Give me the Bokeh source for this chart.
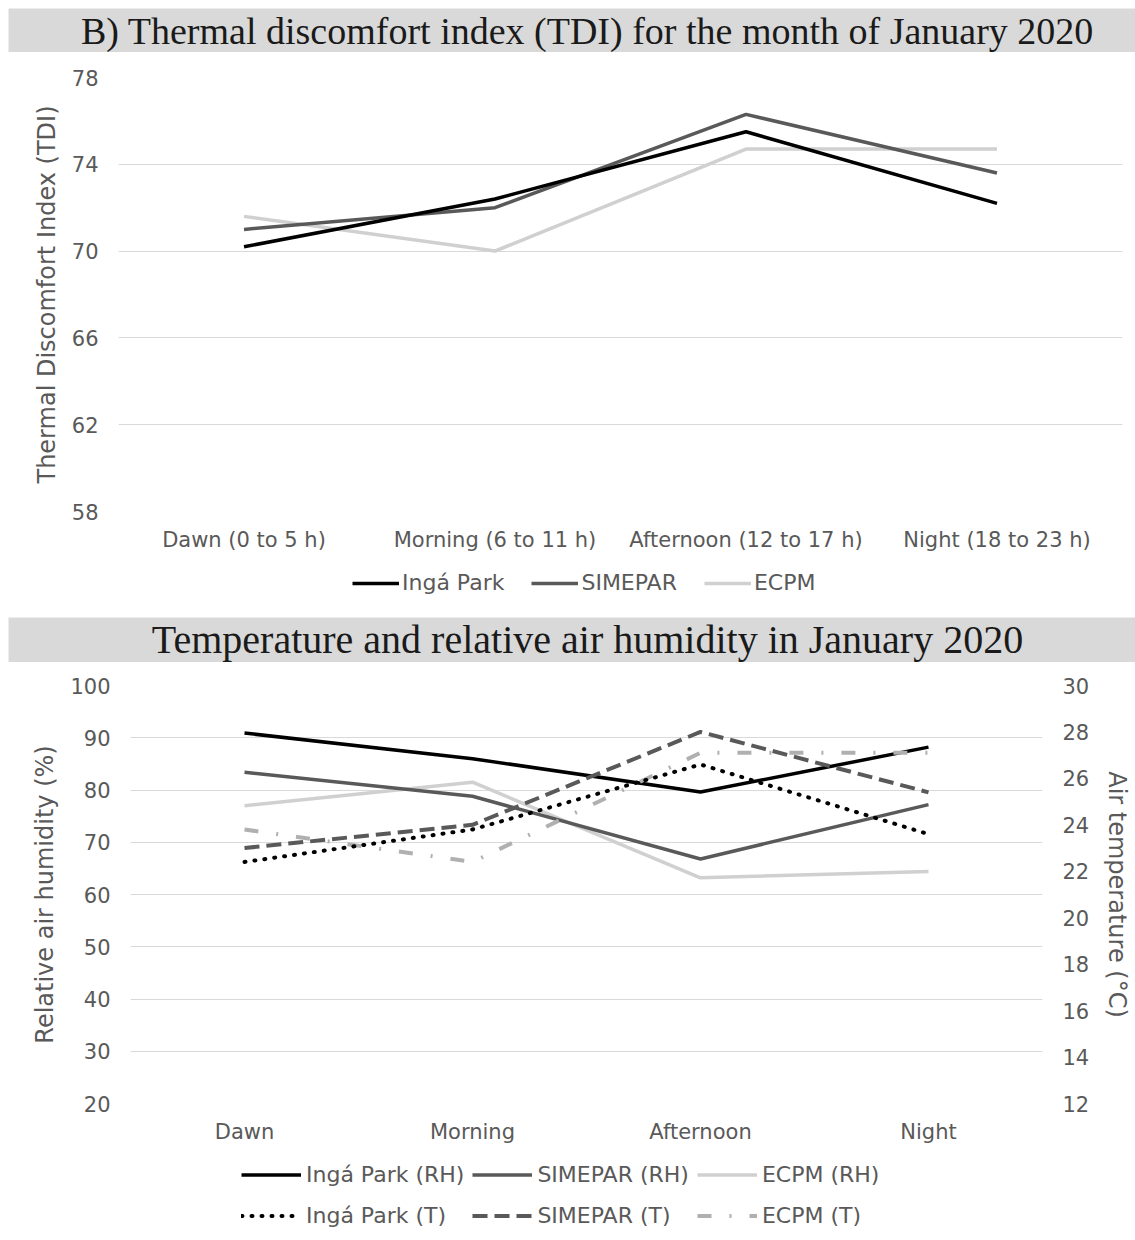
from bokeh.plotting import figure
from bokeh.models import (FactorRange, Range1d, LinearAxis, FixedTicker, Legend,
                          LegendItem, Label, ColumnDataSource)
from bokeh.layouts import column
from bokeh.embed import file_html
from bokeh.resources import INLINE

# ---------------- data ----------------
title_top = "B) Thermal discomfort index (TDI) for the month of January 2020"
title_bottom = "Temperature and relative air humidity in January 2020"

periods_top = ["Dawn (0 to 5 h)", "Morning (6 to 11 h)", "Afternoon (12 to 17 h)", "Night (18 to 23 h)"]
tdi_inga = [70.2, 72.4, 75.5, 72.2]
tdi_simepar = [71.0, 72.0, 76.3, 73.6]
tdi_ecpm = [71.6, 70.0, 74.7, 74.7]
tdi_ticks = [58, 62, 66, 70, 74, 78]

periods_bottom = ["Dawn", "Morning", "Afternoon", "Night"]
rh_inga = [90.9, 86.0, 79.6, 88.2]
rh_simepar = [83.4, 78.8, 66.8, 77.2]
rh_ecpm = [77.0, 81.5, 63.2, 64.4]
t_inga = [22.4, 23.8, 26.6, 23.6]
t_simepar = [23.0, 24.0, 28.0, 25.4]
t_ecpm = [23.8, 22.4, 27.1, 27.1]
rh_ticks = [20, 30, 40, 50, 60, 70, 80, 90, 100]
t_ticks = [12, 14, 16, 18, 20, 22, 24, 26, 28, 30]

top_labels = ["Ingá Park", "SIMEPAR", "ECPM"]
bottom_labels = ["Ingá Park (RH)", "SIMEPAR (RH)", "ECPM (RH)",
                 "Ingá Park (T)", "SIMEPAR (T)", "ECPM (T)"]

# ---------------- style ----------------
SANS = "DejaVu Sans"
SERIF = "Liberation Serif"
TXT = "#595959"
GRID = "#d9d9d9"
BAR = "#d9d9d9"
C_INGA = "#000000"
C_SIM = "#595959"
C_ECPM = "#d0d0d0"
C_ECPM_T = "#b0b0b0"
NAN = float("nan")

style_top = [dict(line_color=C_INGA, line_width=3.5),
             dict(line_color=C_SIM, line_width=3.5),
             dict(line_color=C_ECPM, line_width=3.5)]
style_bottom = [dict(line_color=C_INGA, line_width=3.5),
                dict(line_color=C_SIM, line_width=3.5),
                dict(line_color=C_ECPM, line_width=3.5),
                dict(line_color=C_INGA, line_width=4, line_dash="1 9", line_cap="round"),
                dict(line_color=C_SIM, line_width=4, line_dash="15 7"),
                dict(line_color=C_ECPM_T, line_width=4, line_dash="14 18 2 18")]


def blank_fig(frame_w, frame_h, left, top):
    f = figure(frame_width=frame_w, frame_height=frame_h, x_range=Range1d(0, 1), y_range=Range1d(0, 1),
               toolbar_location=None, output_backend="svg",
               min_border_left=left, min_border_right=0, min_border_top=top, min_border_bottom=0,
               x_axis_location=None, y_axis_location=None, frame_align=False)
    f.grid.visible = False
    f.outline_line_color = None
    return f


def title_bar(text, frame_h, top, base, size):
    f = blank_fig(1127, frame_h, 8, top)
    f.background_fill_color = BAR
    f.border_fill_color = "white"
    f.add_layout(Label(x=579, y=base, x_units="screen", y_units="screen", text=text,
                       text_align="center", text_baseline="alphabetic",
                       text_font=SERIF, text_font_size=size, text_color="#1a1a1a"))
    return f


def legend_fig(height, labels, styles, loc, ncols, glyph_w, glyph_h, standoff, spacing):
    f = blank_fig(1135, height, 0, 0)
    items = []
    for lab, st in zip(labels, styles):
        r = f.line(x=[NAN], y=[NAN], line_join="round", **st)
        items.append(LegendItem(label=lab, renderers=[r]))
    leg = Legend(items=items, orientation="horizontal", ncols=ncols, location=loc,
                 glyph_width=glyph_w, glyph_height=glyph_h, label_height=glyph_h,
                 label_standoff=standoff, spacing=spacing, padding=0, margin=0,
                 border_line_color=None, background_fill_alpha=0, label_text_font=SANS,
                 label_text_font_size="22px", label_text_color=TXT)
    f.add_layout(leg, "center")
    return f


def style_axis(ax, label_standoff):
    ax.axis_line_color = None
    ax.major_tick_line_color = None
    ax.minor_tick_line_color = None
    ax.major_tick_out = 0
    ax.major_tick_in = 0
    ax.major_label_text_font = SANS
    ax.major_label_text_font_size = "21px"
    ax.major_label_text_color = TXT
    ax.major_label_standoff = label_standoff
    ax.axis_label_text_font = SANS
    ax.axis_label_text_font_size = "24px"
    ax.axis_label_text_color = TXT
    ax.axis_label_text_font_style = "normal"


# ---------------- top chart ----------------
bar1 = title_bar(title_top, 44, 8, 22, "38px")

src1 = ColumnDataSource(dict(x=periods_top, inga=tdi_inga, sim=tdi_simepar, ecpm=tdi_ecpm))
p1 = figure(x_range=FactorRange(*periods_top), y_range=Range1d(58, 78),
            frame_width=1004, frame_height=434,
            min_border_left=118, min_border_right=13, min_border_top=25, min_border_bottom=49,
            toolbar_location=None, output_backend="svg", frame_align=False)
p1.outline_line_color = None
p1.xgrid.visible = False
p1.ygrid.ticker = FixedTicker(ticks=tdi_ticks)
p1.ygrid.grid_line_color = GRID
p1.yaxis.ticker = FixedTicker(ticks=tdi_ticks)
p1.yaxis.axis_label = "Thermal Discomfort Index (TDI)"
p1.yaxis.axis_label_standoff = 8
style_axis(p1.yaxis[0], 20)
style_axis(p1.xaxis[0], 16)

p1.line("x", "ecpm", source=src1, line_join="round", **style_top[2])
p1.line("x", "sim", source=src1, line_join="round", **style_top[1])
p1.line("x", "inga", source=src1, line_join="round", **style_top[0])

leg1 = legend_fig(57, top_labels, style_top, (352, 22), "auto", 47, 20, 3, 27)

# ---------------- bottom chart ----------------
bar2 = title_bar(title_bottom, 45, 0, 23, "40px")

src2 = ColumnDataSource(dict(x=periods_bottom, rh_inga=rh_inga, rh_sim=rh_simepar, rh_ecpm=rh_ecpm,
                             t_inga=t_inga, t_sim=t_simepar, t_ecpm=t_ecpm))
p2 = figure(x_range=FactorRange(*periods_bottom), y_range=Range1d(20, 100),
            frame_width=912, frame_height=418,
            min_border_left=130, min_border_right=93, min_border_top=23, min_border_bottom=49,
            toolbar_location=None, output_backend="svg", frame_align=False)
p2.extra_y_ranges = {"temp": Range1d(12, 30)}
p2.outline_line_color = None
p2.xgrid.visible = False
p2.ygrid.ticker = FixedTicker(ticks=rh_ticks)
p2.ygrid.grid_line_color = GRID
p2.yaxis.ticker = FixedTicker(ticks=rh_ticks)
p2.yaxis.axis_label = "Relative air humidity (%)"
p2.yaxis.axis_label_standoff = 8
style_axis(p2.yaxis[0], 20)
style_axis(p2.xaxis[0], 16)

ax_t = LinearAxis(y_range_name="temp", ticker=FixedTicker(ticks=t_ticks),
                  axis_label="Air temperature (°C)", axis_label_standoff=11)
style_axis(ax_t, 20)
p2.add_layout(ax_t, "right")

p2.line("x", "rh_ecpm", source=src2, line_join="round", **style_bottom[2])
p2.line("x", "rh_sim", source=src2, line_join="round", **style_bottom[1])
p2.line("x", "rh_inga", source=src2, line_join="round", **style_bottom[0])
p2.line("x", "t_ecpm", source=src2, y_range_name="temp", line_join="round", **style_bottom[5])
p2.line("x", "t_sim", source=src2, y_range_name="temp", line_join="round", **style_bottom[4])
p2.line("x", "t_inga", source=src2, y_range_name="temp", line_join="round", **style_bottom[3])

leg2 = legend_fig(88, bottom_labels, style_bottom, (241, 8), 3, 60, 33, 5, 8)

layout = column(bar1, p1, leg1, bar2, p2, leg2, spacing=0)
open("out.html", "w").write(file_html(layout, INLINE))
